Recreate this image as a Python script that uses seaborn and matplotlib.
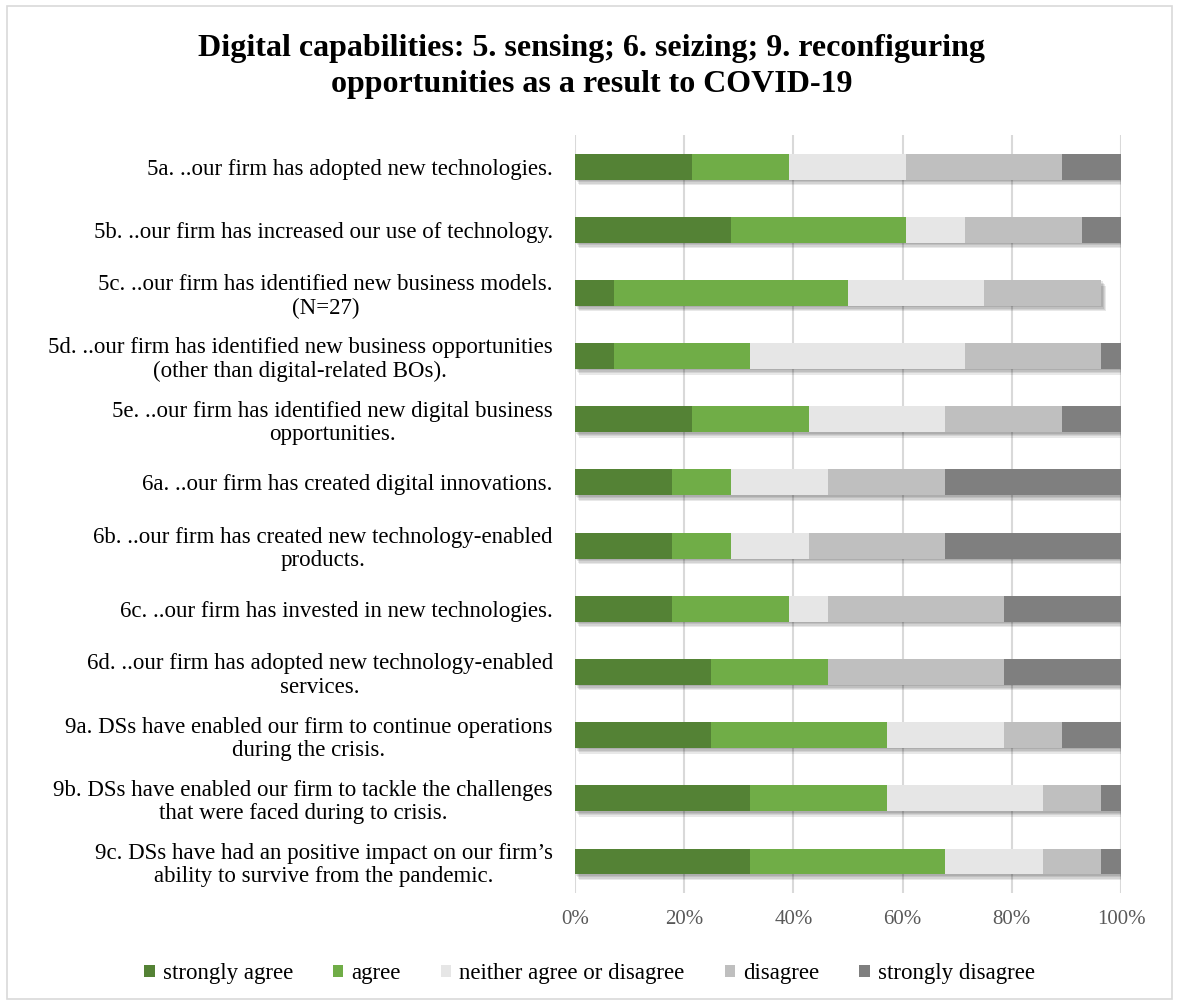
import numpy as np
import pandas as pd
import matplotlib
matplotlib.use("Agg")
import matplotlib.pyplot as plt
import matplotlib.patheffects as pe
from matplotlib.patches import Patch, Rectangle
from matplotlib.ticker import PercentFormatter
import seaborn as sns

# Survey statements (top to bottom)
statements = [
    "5a. ..our firm has adopted new technologies.",
    "5b. ..our firm has increased our use of technology.",
    "5c. ..our firm has identified new business models.\n(N=27)",
    "5d. ..our firm has identified new business opportunities\n(other than digital-related BOs).",
    "5e. ..our firm has identified new digital business\nopportunities.",
    "6a. ..our firm has created digital innovations.",
    "6b. ..our firm has created new technology-enabled\nproducts.",
    "6c. ..our firm has invested in new technologies.",
    "6d. ..our firm has adopted new technology-enabled\nservices.",
    "9a. DSs have enabled our firm to continue operations\nduring the crisis.",
    "9b. DSs have enabled our firm to tackle the challenges\nthat were faced during to crisis.",
    "9c. DSs have had an positive impact on our firm\u2019s\nability to survive from the pandemic.",
]

# Response counts per statement
strongly_agree = [6, 8, 2, 2, 6, 5, 5, 5, 7, 7, 9, 9]
agree = [5, 9, 12, 7, 6, 3, 3, 6, 6, 9, 7, 10]
neither = [6, 3, 7, 11, 7, 5, 4, 2, 0, 6, 8, 5]
disagree = [8, 6, 6, 7, 6, 6, 7, 9, 9, 3, 3, 3]
strongly_disagree = [3, 2, 0, 1, 3, 9, 9, 6, 6, 3, 1, 1]
n_respondents = 28

categories = ["strongly agree", "agree", "neither agree or disagree",
              "disagree", "strongly disagree"]
colors = ["#548235", "#70AD47", "#E6E6E6", "#BFBFBF", "#7F7F7F"]
tick_values = [0, 0.2, 0.4, 0.6, 0.8, 1.0]

series = [strongly_agree, agree, neither, disagree, strongly_disagree]
shares = np.array(series, dtype=float) / n_respondents
cumulative = np.cumsum(shares, axis=0)

sns.set_theme(style="white")
plt.rcParams["font.family"] = ["Liberation Serif", "DejaVu Serif"]

fig = plt.figure(figsize=(11.79, 10.05), dpi=100)
ax = fig.add_axes([0.4877, 0.1114, 0.4631, 0.7543])

# Soft drop shadow built from a few stacked, faint offsets
shadow = [pe.SimplePatchShadow(offset=(o * 0.8, -o), shadow_rgbFace="#000000", alpha=0.09)
          for o in (1.0, 2.0, 3.0, 4.0)] + [pe.Normal()]

# Stacked bars: draw cumulative totals from the outermost segment inwards
for i in reversed(range(len(categories))):
    df = pd.DataFrame({"statement": statements, "value": cumulative[i]})
    n_before = len(ax.patches)
    sns.barplot(data=df, x="value", y="statement", orient="h",
                color=colors[i], saturation=1, width=0.41, ax=ax,
                linewidth=0, zorder=3)
    if i == len(categories) - 1:
        for p in ax.patches[n_before:]:
            p.set_path_effects(shadow)

ax.set_xlim(0, 1.0)
ax.set_xticks(tick_values)
ax.xaxis.set_major_formatter(PercentFormatter(1.0, decimals=0))
ax.set_xlabel("")
ax.set_ylabel("")
ax.grid(axis="x", color="#D9D9D9", linewidth=1.5, zorder=0)
ax.grid(axis="y", visible=False)
ax.set_axisbelow(True)
for s in ax.spines.values():
    s.set_visible(False)

ax.tick_params(axis="x", length=0, pad=12, labelsize=15, labelcolor="#595959")
ax.tick_params(axis="y", length=0, pad=16, labelsize=16.5, labelcolor="#000000")
for lbl in ax.get_yticklabels():
    lbl.set_multialignment("center")
    lbl.set_linespacing(1.15)

fig.suptitle("Digital capabilities: 5. sensing; 6. seizing; 9. reconfiguring\n"
             "opportunities as a result to COVID-19",
             x=0.502, y=0.966, fontsize=23, fontweight="bold", linespacing=1.3,
             color="#000000")

handles = [Patch(facecolor=c, edgecolor="none", label=l)
           for c, l in zip(colors, categories)]
fig.legend(handles=handles, loc="center", bbox_to_anchor=(0.5, 0.031), ncol=5,
           frameon=False, fontsize=16.5, handlelength=0.45, handleheight=0.45,
           handletextpad=0.35, columnspacing=1.75, labelcolor="#000000")

# Chart-area border
fig.patches.append(Rectangle((0.006, 0.006), 0.988, 0.988, transform=fig.transFigure,
                             fill=False, edgecolor="#D9D9D9", linewidth=1.2))

fig.savefig("out.png", dpi=100, facecolor="white")
